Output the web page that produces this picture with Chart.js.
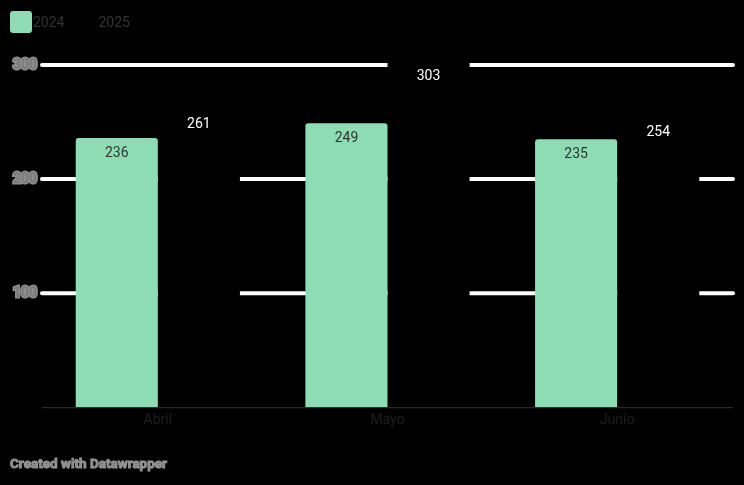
<!DOCTYPE html>
<html>
<head>
<meta charset="utf-8">
<script src="https://cdn.jsdelivr.net/npm/chart.js@4.4.1/dist/chart.umd.min.js"></script>
<style>
  html, body { margin: 0; padding: 0; background: #000; }
  #wrap { position: relative; width: 744px; height: 485px; font-family: Roboto, sans-serif; }
  #chart { position: absolute; left: 0; top: 0; }
  .legend { position: absolute; top: 11px; left: 10px; display: flex; align-items: center; font-size: 14px; color: #333; }
  .legend .box { width: 22px; height: 22px; border-radius: 3px; margin-right: 1px; }
  .legend .item { display: flex; align-items: center; margin-right: 11px; }
  .footer { position: absolute; left: 10px; top: 455px; font-size: 13.5px; font-weight: bold; color: #858585; -webkit-text-stroke: 1px #959595; }
</style>
</head>
<body>
<div id="wrap">
  <canvas id="chart" width="744" height="485"></canvas>
  <div class="legend">
    <div class="item"><span class="box" style="background:#8ddcb3"></span><span>2024</span></div>
    <div class="item"><span class="box" style="background:#000"></span><span>2025</span></div>
  </div>
  <div class="footer">Created with Datawrapper</div>
</div>
<script>
// Data
const months = ["Abril", "Mayo", "Junio"]
const values2024 = [236, 249, 235]
const values2025 = [261, 303, 254]
const yTicks = [100, 200, 300]

// White rounded grid lines behind the bars, baseline + value labels on top
const roundGridPlugin = {
  id: "roundGrid",
  beforeDatasetsDraw(chart) {
    const { ctx, chartArea, scales } = chart
    ctx.save()
    ctx.strokeStyle = "#ffffff"
    ctx.lineWidth = 4
    ctx.lineCap = "round"
    yTicks.forEach((t) => {
      const y = scales.y.getPixelForValue(t)
      ctx.beginPath()
      ctx.moveTo(chartArea.left - 1, y)
      ctx.lineTo(chartArea.right + 1, y)
      ctx.stroke()
    })
    ctx.restore()
  },
  afterDatasetsDraw(chart) {
    const { ctx, chartArea, scales } = chart
    const y0 = scales.y.getPixelForValue(0)
    ctx.save()
    ctx.strokeStyle = "#333333"
    ctx.lineWidth = 1
    ctx.beginPath()
    ctx.moveTo(chartArea.left - 1, y0 + 0.5)
    ctx.lineTo(chartArea.right + 1, y0 + 0.5)
    ctx.stroke()

    // value labels inside bar tops
    ctx.font = "14px Roboto"
    ctx.textAlign = "center"
    ctx.textBaseline = "middle"
    chart.data.datasets.forEach((ds, i) => {
      const meta = chart.getDatasetMeta(i)
      meta.data.forEach((bar, j) => {
        ctx.fillStyle = ds.labelColor
        ctx.fillText(ds.data[j], bar.x, bar.y + 15)
      })
    })
    ctx.restore()
  },
}

new Chart(document.getElementById("chart"), {
  type: "bar",
  data: {
    labels: months,
    datasets: [
      {
        label: "2024",
        data: values2024,
        backgroundColor: "#8ddcb3",
        borderRadius: { topLeft: 3, topRight: 3 },
        borderSkipped: "bottom",
        labelColor: "#333333",
        clip: false,
      },
      {
        label: "2025",
        data: values2025,
        backgroundColor: "#000000",
        labelColor: "#ffffff",
        clip: false,
      },
    ],
  },
  options: {
    responsive: false,
    animation: false,
    layout: { padding: { top: 65, bottom: 51, left: 8, right: 12 } },
    datasets: { bar: { categoryPercentage: 0.715, barPercentage: 1 } },
    plugins: { legend: { display: false }, tooltip: { enabled: false } },
    scales: {
      x: {
        grid: { display: false, drawTicks: false },
        border: { display: false },
        ticks: { color: "#1e1e1e", font: { family: "Roboto", size: 14 }, padding: 5 },
      },
      y: {
        min: 0,
        max: 300,
        afterFit(scale) { scale.width = 35 },
        afterBuildTicks(scale) { scale.ticks = yTicks.map((v) => ({ value: v })) },
        grid: { display: false, drawTicks: false },
        border: { display: false },
        ticks: {
          color: "#7a7a7a",
          textStrokeColor: "#8e8e8e",
          textStrokeWidth: 3,
          font: { family: "Roboto", size: 14, weight: "bold" },
          padding: 6,
        },
      },
    },
  },
  plugins: [roundGridPlugin],
})
</script>
</body>
</html>
